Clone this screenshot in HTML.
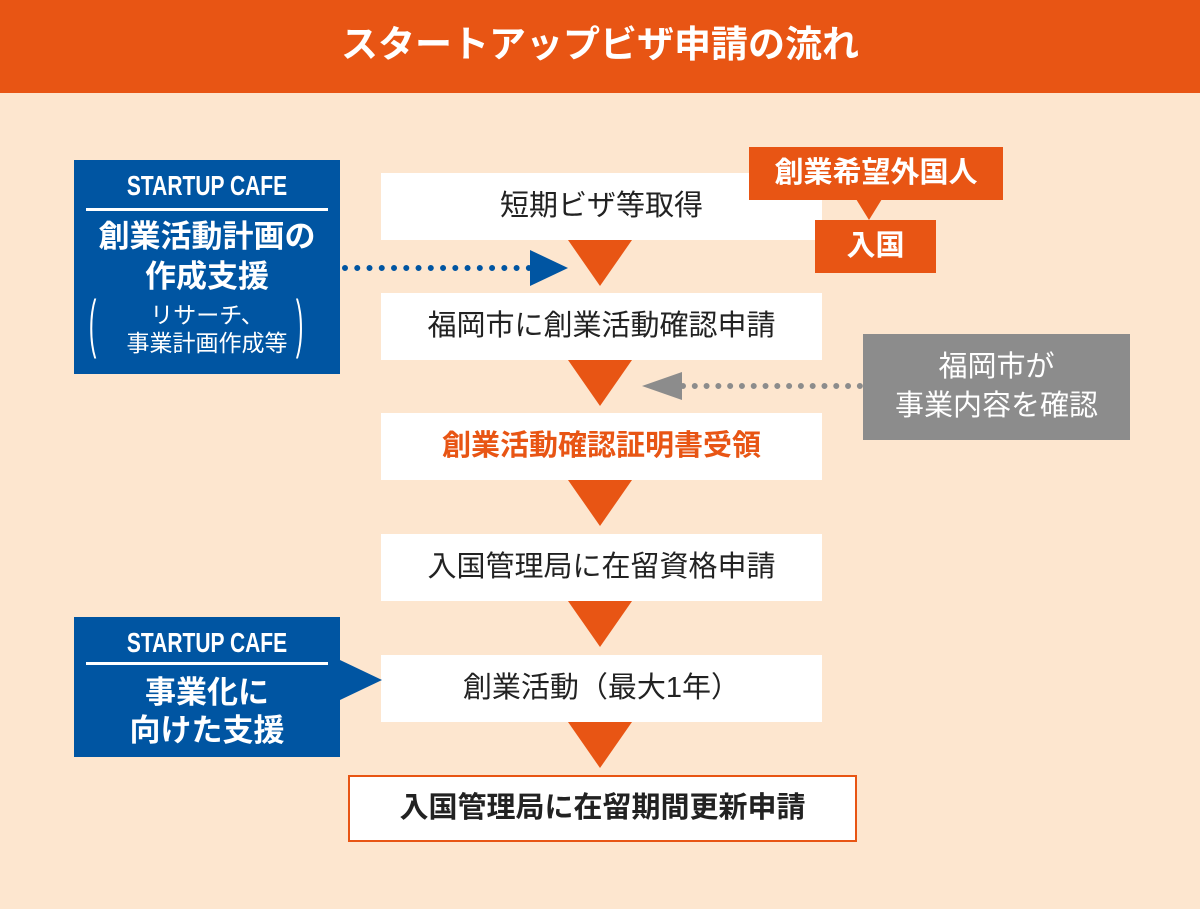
<!DOCTYPE html>
<html><head><meta charset="utf-8"><style>
*{margin:0;padding:0;box-sizing:border-box}
body{width:1200px;height:909px;background:#fde6cf;position:relative;overflow:hidden;font-family:"Liberation Sans","Noto Sans CJK JP",sans-serif}
.a{position:absolute}
.hdr{left:0;top:0;width:1200px;height:93px;background:#e85514;color:#fff;font-size:37px;font-weight:bold;text-align:center;line-height:90px}
.wb{background:#fff;left:381px;width:441px;height:67px;text-align:center;line-height:67px;font-size:29px;color:#222}
.tri{width:0;height:0;border-left:32px solid transparent;border-right:32px solid transparent;border-top:46px solid #e85514;left:568px}
.blue{background:#0055a2;color:#fff;text-align:center}
.sc{font-family:"Liberation Sans Narrow","Liberation Sans",sans-serif;font-weight:bold;font-size:28px;transform:scaleX(.75)}
.rule{position:absolute;left:12px;right:12px;height:3px;background:#fff}
.or{background:#e85514;color:#fff;text-align:center;font-size:29px;font-weight:bold}
</style></head><body>
<div class="a hdr">スタートアップビザ申請の流れ</div>

<div class="a wb" style="top:173px">短期ビザ等取得</div>
<div class="a tri" style="top:240px"></div>
<div class="a wb" style="top:293px">福岡市に創業活動確認申請</div>
<div class="a tri" style="top:360px"></div>
<div class="a wb" style="top:413px;color:#e85514;font-weight:bold">創業活動確認証明書受領</div>
<div class="a tri" style="top:480px"></div>
<div class="a wb" style="top:534px">入国管理局に在留資格申請</div>
<div class="a tri" style="top:601px"></div>
<div class="a wb" style="top:655px">創業活動（最大1年）</div>
<div class="a tri" style="top:722px"></div>
<div class="a" style="left:348px;top:775px;width:509px;height:67px;background:#fff;border:2px solid #e85514;text-align:center;line-height:62px;font-size:29px;font-weight:bold;color:#222">入国管理局に在留期間更新申請</div>

<div class="a blue" style="left:74px;top:160px;width:266px;height:214px">
<div class="sc" style="margin-top:9px;line-height:34px">STARTUP CAFE</div>
<div class="rule" style="top:48px"></div>
<div style="margin-top:14px;font-size:31px;font-weight:bold;line-height:40px">創業活動計画の<br>作成支援</div>
<div style="font-size:23px;line-height:28px;margin-top:4px">リサーチ、<br>事業計画作成等</div>
<div class="a" style="left:8px;top:126px;font-size:64px;font-weight:100;transform:scaleX(.35)">(</div>
<div class="a" style="right:30px;top:126px;font-size:64px;font-weight:100;transform:scaleX(.35)">)</div>
</div>
<div class="a" style="left:342px;top:265px;width:190px;border-top:6px dotted #0055a2"></div>
<div class="a" style="left:530px;top:250px;width:0;height:0;border-top:18px solid transparent;border-bottom:18px solid transparent;border-left:38px solid #0055a2"></div>

<div class="a blue" style="left:74px;top:617px;width:266px;height:140px">
<div class="sc" style="margin-top:9px;line-height:34px">STARTUP CAFE</div>
<div class="rule" style="top:45px"></div>
<div style="margin-top:14px;font-size:31px;font-weight:bold;line-height:38px">事業化に<br>向けた支援</div>
</div>
<div class="a" style="left:340px;top:660px;width:0;height:0;border-top:20px solid transparent;border-bottom:20px solid transparent;border-left:42px solid #0055a2"></div>

<div class="a or" style="left:749px;top:147px;width:254px;height:53px;line-height:53px">創業希望外国人</div>
<div class="a" style="left:856px;top:199px;width:0;height:0;border-left:13px solid transparent;border-right:13px solid transparent;border-top:21px solid #e85514"></div>
<div class="a or" style="left:815px;top:220px;width:121px;height:53px;line-height:53px">入国</div>

<div class="a" style="left:863px;top:334px;width:267px;height:106px;background:#8c8c8c;color:#fff;text-align:center;font-size:29px;line-height:39px;padding-top:14px">福岡市が<br>事業内容を確認</div>
<div class="a" style="left:680px;top:383px;width:183px;border-top:6px dotted #8c8c8c"></div>
<div class="a" style="left:642px;top:372px;width:0;height:0;border-top:14px solid transparent;border-bottom:14px solid transparent;border-right:40px solid #8c8c8c"></div>
</body></html>
